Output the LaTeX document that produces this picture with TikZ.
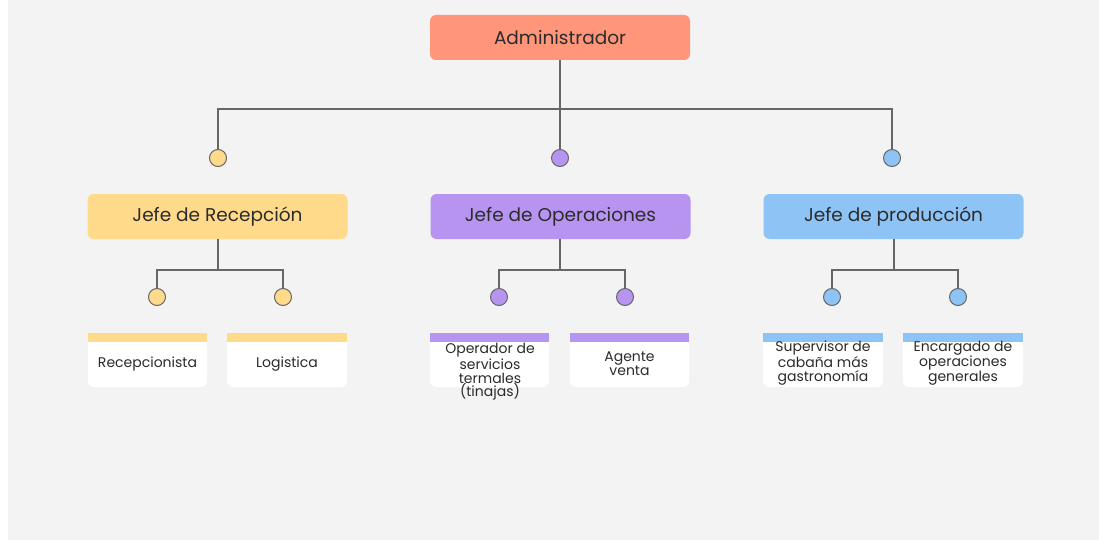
\documentclass[tikz,border=0pt]{standalone}
\usepackage{fontspec}
\setmainfont{Poppins}
\definecolor{bg}{HTML}{F3F3F3}
\definecolor{adm}{HTML}{FF967A}
\definecolor{yel}{HTML}{FFDA8A}
\definecolor{pur}{HTML}{B794F0}
\definecolor{blu}{HTML}{8EC3F5}
\definecolor{ln}{HTML}{666666}
\definecolor{txt}{HTML}{2B2B2B}
\begin{document}
\begin{tikzpicture}[x=1pt,y=-1pt,
  head/.style={rounded corners=6pt, minimum width=260pt, minimum height=45pt, inner sep=0pt, text=txt, font=\fontsize{18.5}{20}\selectfont},
  dot/.style={circle, draw=ln, line width=1pt, minimum size=17pt, inner sep=0pt},
  conn/.style={draw=ln, line width=2pt},
  card/.style={fill=white, rounded corners=6pt},
  lab/.style={align=center, text=txt, font=\fontsize{14}{13.8}\selectfont, inner sep=0pt}
]
\useasboundingbox (0,0) rectangle (1099,540);
\fill[white] (0,0) rectangle (1099,540);
\fill[bg] (8,0) rectangle (1099,540);

% top
\node[head, fill=adm] (adm) at (560,37.5) {Administrador};
\coordinate (hL) at (218,109);
\coordinate (hR) at (892,109);
\node[dot, fill=yel] (d1) at (218,158) {};
\node[dot, fill=pur] (d2) at (560,158) {};
\node[dot, fill=blu] (d3) at (892,158) {};
\draw[conn] (adm.south) -- (d2.north);
\draw[conn] (d1.north) |- (hR) -- (d3.north);

% mid heads
\node[head, fill=yel] (j1) at (217.5,216.5) {Jefe de Recepción};
\node[head, fill=pur] (j2) at (560.5,216.5) {Jefe de Operaciones};
\node[head, fill=blu] (j3) at (893.5,216.5) {Jefe de producción};

% sub dots
\node[dot, fill=yel] (a1) at (157,297) {};
\node[dot, fill=yel] (a2) at (283,297) {};
\node[dot, fill=pur] (b1) at (499,297) {};
\node[dot, fill=pur] (b2) at (625,297) {};
\node[dot, fill=blu] (c1) at (832,297) {};
\node[dot, fill=blu] (c2) at (958,297) {};

\coordinate (ja) at (218,270);
\coordinate (jb) at (560,270);
\coordinate (jc) at (894,270);
\draw[conn] (j1.south -| ja) -- (ja);
\draw[conn] (a1.north) |- (ja) -| (a2.north);
\draw[conn] (j2.south -| jb) -- (jb);
\draw[conn] (b1.north) |- (jb) -| (b2.north);
\draw[conn] (j3.south -| jc) -- (jc);
\draw[conn] (c1.north) |- (jc) -| (c2.north);

% cards
\newcommand{\mycard}[3]{% x0, x1, color
  \fill[card] (#1,336) -- (#1,387) -- (#2,387) -- (#2,336) -- cycle;
  \fill[#3] (#1,333) rectangle (#2,342);
}
\mycard{88}{207}{yel}
\mycard{227}{347}{yel}
\mycard{430}{549}{pur}
\mycard{570}{689}{pur}
\mycard{763}{883}{blu}
\mycard{903}{1023}{blu}

\node[lab] (r1) at (147.5,364) {Recepcionista};
\node[lab] (r2) at (287,364) {Logistica};
\node[lab] (o1) at (490,372) {Operador de\\servicios\\termales\\(tinajas)};
\node[lab] (o2) at (629.5,363.5) {Agente\\venta};
\node[lab] (p1) at (823,363) {Supervisor de\\cabaña más\\gastronomía};
\node[lab] (p2) at (963,363) {Encargado de\\operaciones\\generales};
\end{tikzpicture}
\end{document}
